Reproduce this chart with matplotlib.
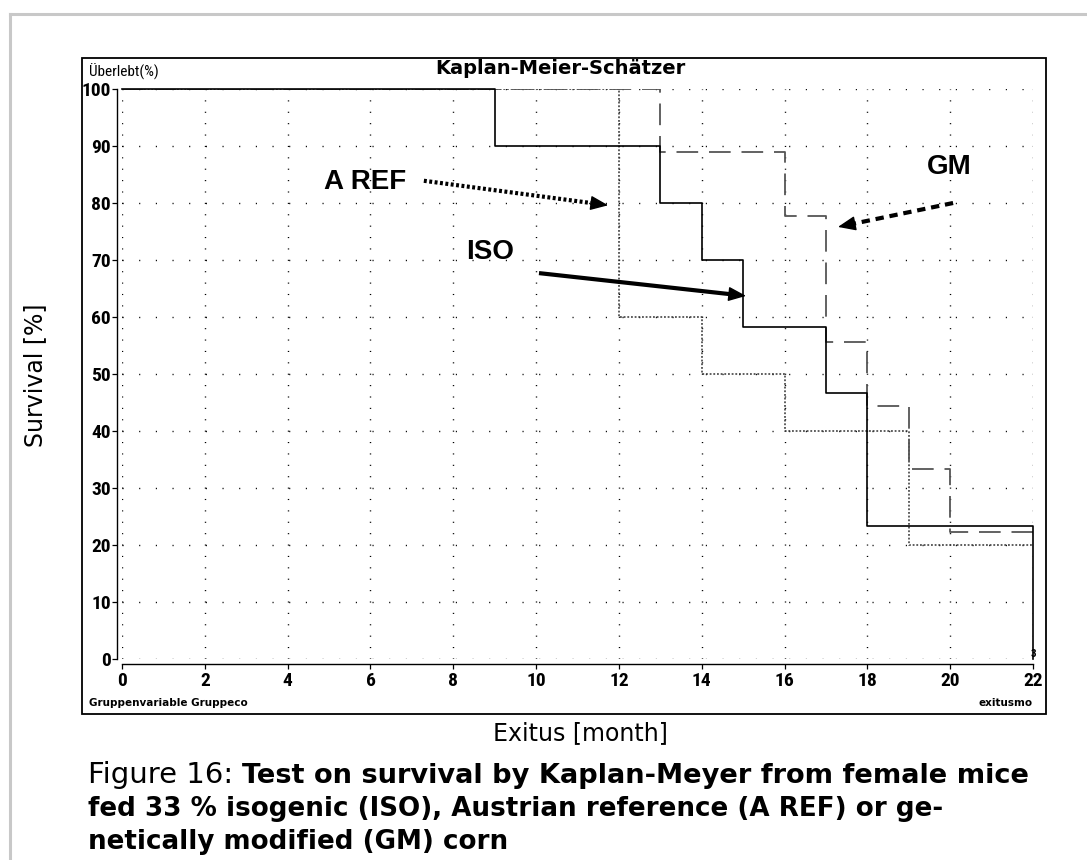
import matplotlib
matplotlib.use("Agg")
import matplotlib.pyplot as plt
from matplotlib import font_manager
from matplotlib.patches import Rectangle
from matplotlib.lines import Line2D

# ---------------------------------------------------------------- data
iso_t = [0, 9, 13, 14, 15, 17, 18, 22, 22]
iso_s = [100, 90, 80, 70, 58.3, 46.7, 23.3, 23.3, 0]
gm_t = [0, 13, 16, 17, 18, 19, 20, 22]
gm_s = [100, 88.9, 77.8, 55.6, 44.4, 33.3, 22.2, 22.2]
aref_t = [0, 12, 14, 16, 19, 22]
aref_s = [100, 60, 50, 40, 20, 20]

x_ticks = list(range(0, 23, 2))
y_ticks = list(range(0, 101, 10))

# annotation label positions / arrow (start, tip) in data units
labels = ["A REF", "ISO", "GM"]
label_xy = [(5.87, 83.7), (8.89, 71.4), (19.97, 86.3)]
arrow_from = [(7.29, 83.9), (10.07, 67.7), (20.07, 80.0)]
arrow_to = [(11.74, 79.6), (15.07, 63.7), (17.29, 75.8)]
arrow_ls = [(0, (0.7, 0.6)), "-", (0, (2.0, 1.4))]

# pick a narrow face if one is installed
fonts = font_manager.fontManager.ttflist
names = {f.name for f in fonts}
narrow, stretch = "DejaVu Sans", "normal"
for cand in ["Liberation Sans Narrow", "Roboto Condensed", "Open Sans Condensed",
             "Noto Sans Condensed", "DejaVu Sans Condensed"]:
    if cand in names:
        narrow = cand
        break
else:
    for f in fonts:
        if f.stretch in ("condensed", "semi-condensed", "extra-condensed", 500, 300, 400) \
                and f.stretch != "normal" and "Sans" in f.name:
            narrow, stretch = f.name, f.stretch
            break
arial = "Liberation Sans" if "Liberation Sans" in names else "DejaVu Sans"

W, H = 1087, 860
fig = plt.figure(figsize=(W / 100, H / 100), dpi=100)

def fx(px):
    return px / W

def fy(py):
    return 1 - py / H

# page border + chart frame
fig.add_artist(Line2D([fx(10), 1], [fy(14), fy(14)], color="#c8c8c8", lw=2.2))
fig.add_artist(Line2D([fx(10), fx(10)], [fy(14), 0], color="#c8c8c8", lw=2.2))
fig.add_artist(Rectangle((fx(82), fy(714)), fx(1046) - fx(82), fy(58) - fy(714),
                         fill=False, ec="black", lw=1.3, transform=fig.transFigure))

ax = fig.add_axes([fx(122), fy(659), fx(1033) - fx(122), fy(89) - fy(659)])
ax.set_xlim(0, 22)
ax.set_ylim(0, 100)

for s in ("top", "right"):
    ax.spines[s].set_visible(False)
ax.spines["left"].set_position(("outward", 3.6))
ax.spines["bottom"].set_position(("outward", 3.6))
ax.spines["left"].set_linewidth(1.0)
ax.spines["bottom"].set_linewidth(1.0)

ax.set_xticks(x_ticks)
ax.set_yticks(y_ticks)
ax.tick_params(direction="out", length=3.6, width=0.9, pad=2.0)
ax.tick_params(axis="y", pad=0.8)
for lab in ax.get_xticklabels() + ax.get_yticklabels():
    lab.set_fontfamily(narrow)
    lab.set_fontstretch(stretch)
    lab.set_fontweight("bold")
    lab.set_fontsize(14)

# dotted grid
for xv in x_ticks:
    ax.axvline(xv, color="black", lw=1.0, ls=(0, (0.8, 7.4)), zorder=0)
for yv in y_ticks:
    ax.axhline(yv, color="black", lw=1.0, ls=(0, (0.8, 11.2)), zorder=0)

# survival curves
ax.step(aref_t, aref_s, where="post", color="#333", lw=1.1, ls=(0, (1.2, 1.2)), zorder=2)
ax.step(gm_t, gm_s, where="post", color="#555", lw=1.3, ls=(0, (12, 6)), zorder=3)
ax.step(iso_t, iso_s, where="post", color="black", lw=1.2, zorder=4, clip_on=False)
ax.text(22, 0.8, "3", fontsize=8, fontweight="bold", ha="center", va="center",
        family=narrow, clip_on=False)

# labelled arrows: styled shaft + solid head
for lab, lxy, a0, a1, ls in zip(labels, label_xy, arrow_from, arrow_to, arrow_ls):
    ax.text(lxy[0], lxy[1], lab, fontsize=20, fontweight="bold", family=arial,
            ha="center", va="center")
    f = 0.92
    base = (a0[0] + f * (a1[0] - a0[0]), a0[1] + f * (a1[1] - a0[1]))
    ax.plot([a0[0], base[0]], [a0[1], base[1]], color="black", lw=3.0, ls=ls,
            solid_capstyle="butt", dash_capstyle="butt", zorder=5)
    ax.annotate("", xy=a1, xytext=base,
                arrowprops=dict(arrowstyle="-|>,head_length=1.1,head_width=0.45",
                                lw=1.0, color="black", shrinkA=0, shrinkB=0),
                zorder=5)

# header / footer texts inside frame
fig.text(fx(89), fy(72), "Überlebt(%)", family=narrow, fontstretch=stretch,
         fontsize=11, va="center", ha="left")
fig.text(fx(560), fy(68), "Kaplan-Meier-Schätzer", fontsize=14, fontweight="bold",
         va="center", ha="center")
fig.text(fx(89), fy(703), "Gruppenvariable Gruppeco", fontsize=7.5, fontweight="bold",
         va="center", ha="left")
fig.text(fx(1033), fy(703), "exitusmo", fontsize=7.5, fontweight="bold",
         va="center", ha="right")

# axis titles outside frame
fig.text(fx(35), fy(375), "Survival [%]", fontsize=17, rotation=90, va="center", ha="center")
fig.text(fx(580), fy(733), "Exitus [month]", fontsize=17, va="center", ha="center")

# caption
fig.canvas.draw()
renderer = fig.canvas.get_renderer()
t0 = fig.text(fx(88), fy(783), "Figure 16: ", fontsize=21, va="baseline", ha="left")
bb = t0.get_window_extent(renderer)
fig.text(bb.x1 / W, fy(783), "Test on survival by Kaplan-Meyer from female mice",
         fontsize=19.6, fontweight="bold", va="baseline", ha="left")
fig.text(fx(88), fy(816), "fed 33 % isogenic (ISO), Austrian reference (A REF) or ge-",
         fontsize=18.8, fontweight="bold", va="baseline", ha="left")
fig.text(fx(88), fy(849), "netically modified (GM) corn",
         fontsize=18.8, fontweight="bold", va="baseline", ha="left")

fig.savefig("out.png", dpi=100)
